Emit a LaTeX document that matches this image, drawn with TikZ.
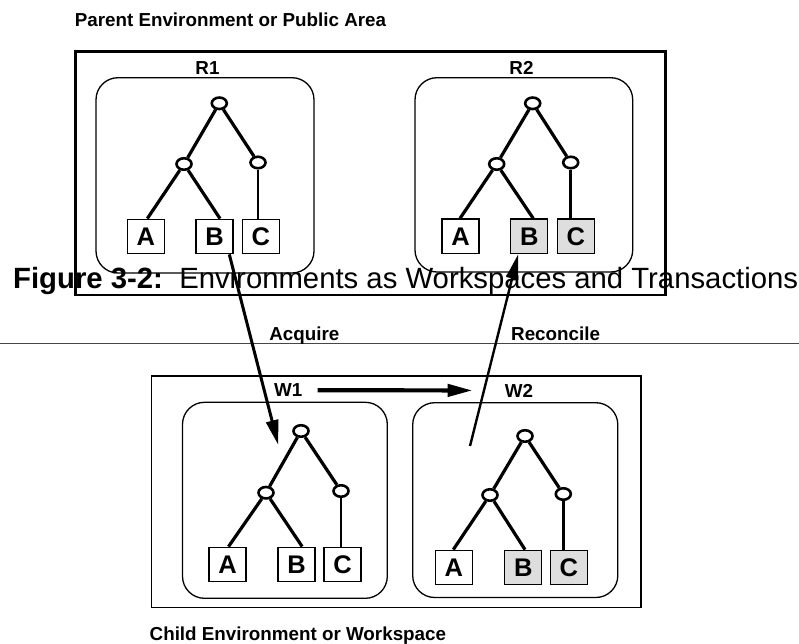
\documentclass[tikz,border=0pt]{standalone}
\usepackage{fontspec}
\setmainfont{Liberation Sans}
\usetikzlibrary{shapes.geometric,arrows.meta}
\definecolor{boxgray}{RGB}{222,222,222}
\definecolor{rulegray}{RGB}{70,70,70}
\tikzset{
  lbl/.style={font=\fontsize{18.8}{20}\selectfont\bfseries, inner sep=0pt, anchor=base},
  knot/.style={ellipse, draw, line width=2.6pt, minimum width=15pt, minimum height=11.5pt, inner sep=0pt, fill=white},
  leaf/.style={rectangle, draw, line width=1.3pt, minimum width=37pt, minimum height=34.5pt, inner sep=0pt, fill=white,
               font=\fontsize{25.5}{26}\selectfont\bfseries},
  leafgray/.style={leaf, fill=boxgray},
  branch/.style={line width=3.2pt},
  stem/.style={line width=2.7pt},
  envbox/.style={draw, line width=1.3pt, rounded corners=22pt},
  flow/.style={line width=3pt, -{Triangle[length=25pt,width=12pt]}},
}
\begin{document}
\begin{tikzpicture}[x=1pt,y=-1pt]
\useasboundingbox (0,0) rectangle (799,644);

% outer areas
\draw[line width=2.7pt] (75.3,51.7) rectangle (665.8,295);
\draw[line width=1.5pt] (151.7,376) rectangle (641,607.7);
\draw[line width=1.8pt, rulegray] (0,343.5) -- (799,343.5);

% environment boxes
\draw[envbox] (96,77.7) rectangle (314,273);
\draw[envbox] (415,77.7) rectangle (632.7,272);
\draw[envbox] (182.5,402.3) rectangle (387.3,598.3);
\draw[envbox] (412.7,402.7) rectangle (617.8,597.5);

% caption
\node[anchor=base west, inner sep=0pt, font=\fontsize{29.3}{30}\selectfont] (caption) at (13,288.5)
  {\textbf{Figure 3-2:}\ \ Environments as Workspaces and Transactions};

% labels
\node[lbl, anchor=base west] (parent) at (74.6,26.7) {Parent Environment or Public Area};
\node[lbl, anchor=base west] (child) at (149.5,640) {Child Environment or Workspace};
\node[lbl] (r1lbl) at (207.5,75) {R1};
\node[lbl] (r2lbl) at (521.5,75) {R2};
\node[lbl] (w1lbl) at (288.3,396.7) {W1};
\node[lbl] (w2lbl) at (519,397) {W2};
\node[lbl] (acq) at (304.3,340) {Acquire};
\node[lbl] (rec) at (555.6,340) {Reconcile};

% ---- tree R1
\node[knot] (r1root) at (219.3,103.3) {};
\node[knot] (r1ml) at (184,164) {};
\node[knot] (r1mr) at (258,162.5) {};
\node[leaf] (r1a) at (145.8,236.5) {A};
\node[leaf] (r1b) at (214.5,236.5) {B};
\node[leaf] (r1c) at (260.8,236.5) {C};
\draw[branch] (r1root) -- (r1ml);
\draw[branch] (r1root) -- (r1mr);
\draw[branch] (r1ml) -- ([xshift=1.5pt]r1a.north);
\draw[branch] (r1ml) -- ([xshift=5.5pt]r1b.north);
\draw[stem] (r1mr) -- (r1mr |- r1c.north);

% ---- tree R2
\node[knot] (r2root) at (532.7,103.3) {};
\node[knot] (r2ml) at (496.7,164) {};
\node[knot] (r2mr) at (570.7,162.5) {};
\node[leaf] (r2a) at (460.5,236.3) {A};
\node[leafgray] (r2b) at (529.2,236.3) {B};
\node[leafgray] (r2c) at (575.8,236.3) {C};
\draw[branch] (r2root) -- (r2ml);
\draw[branch] (r2root) -- (r2mr);
\draw[branch] (r2ml) -- ([xshift=-0.5pt]r2a.north);
\draw[branch] (r2ml) -- ([xshift=4pt]r2b.north);
\draw[stem] (r2mr) -- (r2mr |- r2c.north);

% ---- tree W1
\node[knot] (w1root) at (301,431) {};
\node[knot] (w1ml) at (266,492.7) {};
\node[knot] (w1mr) at (341,491) {};
\node[leaf] (w1a) at (227.5,564.5) {A};
\node[leaf] (w1b) at (296.6,564.5) {B};
\node[leaf] (w1c) at (342.5,564.5) {C};
\draw[branch] (w1root) -- (w1ml);
\draw[branch] (w1root) -- (w1mr);
\draw[branch] (w1ml) -- ([xshift=1pt]w1a.north);
\draw[branch] (w1ml) -- ([xshift=5.6pt]w1b.north);
\draw[stem] (w1mr) -- (w1mr |- w1c.north);

% ---- tree W2
\node[knot] (w2root) at (525,436) {};
\node[knot] (w2ml) at (490,495) {};
\node[knot] (w2mr) at (563.3,494) {};
\node[leaf] (w2a) at (453.8,567.5) {A};
\node[leafgray] (w2b) at (523.3,567.5) {B};
\node[leafgray] (w2c) at (568.8,567.5) {C};
\draw[branch] (w2root) -- (w2ml);
\draw[branch] (w2root) -- (w2mr);
\draw[branch] (w2ml) -- ([xshift=-0.5pt]w2a.north);
\draw[branch] (w2ml) -- ([xshift=1.7pt]w2b.north);
\draw[stem] (w2mr) -- (w2mr |- w2c.north);

% ---- transfers
\coordinate (acqtip) at (278.3,445);
\coordinate (recstart) at (470,446);
\draw[flow] ([xshift=14.8pt]r1b.south) -- (acqtip);
\draw[flow, line width=2.4pt] (recstart) -- ([xshift=-11pt]r2b.south);
\draw[flow, line width=4.2pt] ([xshift=15pt]w1lbl.east) -- ([xshift=-32pt]w2lbl.west);
\end{tikzpicture}
\end{document}
